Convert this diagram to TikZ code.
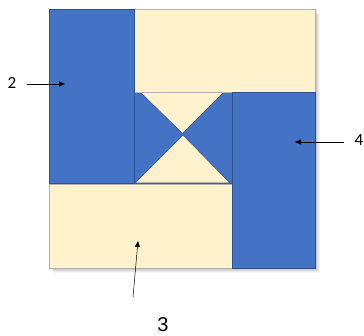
\documentclass[tikz,border=0pt]{standalone}
\usepackage{fontspec}
\setmainfont{Carlito}
\newfontfamily\arialish{Liberation Sans}
\usetikzlibrary{arrows.meta}
\definecolor{qblue}{HTML}{4472C4}
\definecolor{qblueedge}{HTML}{2F528F}
\definecolor{qcream}{HTML}{FFF2CC}
\tikzset{
  bluepart/.style={fill=qblue, draw=qblueedge, line width=0.6pt},
  creampart/.style={fill=qcream, draw=gray!60, line width=0.5pt},
  tri/.style={fill=qcream, draw=qblueedge, line width=0.6pt, line join=round},
  pointer/.style={-{Triangle[length=6pt,width=5pt]}, line width=0.5pt, black},
  lbl/.style={font=\fontsize{17}{19}\selectfont, inner sep=0pt}
}
\begin{document}
\begin{tikzpicture}[x=1pt,y=-1pt]
\useasboundingbox (0,0) rectangle (364,335);
% soft shadow
\foreach \d/\o in {5/0.04,4/0.05,3/0.06,2/0.07} {
  \fill[black, opacity=\o] (49+\d,9+\d) rectangle (315+\d,268+\d);
}
% centre square with hourglass
\path[bluepart] (133,92) rectangle (232,183);
\path[tri] (140,92) -- (224,92) -- (182.5,133.5) -- cycle;
\path[tri] (135,183) -- (230,183) -- (183,135) -- cycle;
% cream rectangles
\path[creampart] (134,9) rectangle (315,92);
\path[creampart] (49,184) rectangle (232,268);
% blue rectangles
\path[bluepart] (49,9) rectangle (134,183.5);
\path[bluepart] (232,92) rectangle (315,268);
% labels and pointers
\node[lbl] (l2) at (12,83) {2};
\coordinate (s2) at (27,84);
\coordinate (t2) at (65,84);
\draw[pointer] (s2) -- (t2);
\node[lbl, anchor=west] (l4) at (354.5,140) {4};
\coordinate (s4) at (344,142);
\coordinate (t4) at (295,142);
\draw[pointer] (s4) -- (t4);
\node[lbl, font=\arialish\fontsize{20}{22}\selectfont] (l3) at (163,324.5) {3};
\coordinate (s3) at (133,297);
\coordinate (t3) at (138,241);
\draw[pointer] (s3) -- (t3);
\end{tikzpicture}
\end{document}
